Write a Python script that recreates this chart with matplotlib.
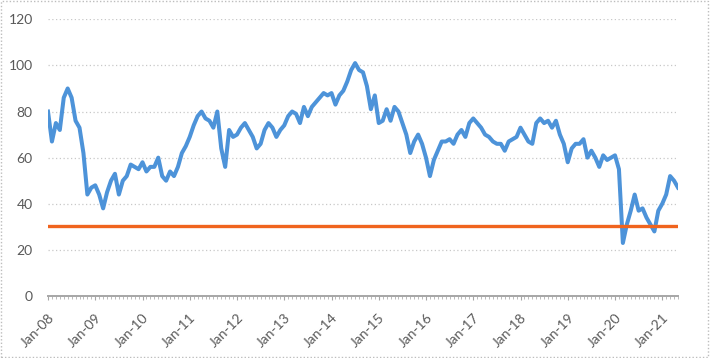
import matplotlib
matplotlib.use("Agg")
import matplotlib.pyplot as plt
from matplotlib.patches import Rectangle
import numpy as np

# monthly values, Jan-08 .. May-21
values = [
    80, 67, 75, 72, 86, 90, 86, 76, 73, 62, 44, 47,      # 2008
    48, 44, 38, 45, 50, 53, 44, 50, 52, 57, 56, 55,      # 2009
    58, 54, 56, 56, 60, 52, 50, 54, 52, 56, 62, 65,      # 2010
    69, 74, 78, 80, 77, 76, 73, 80, 64, 56, 72, 69,      # 2011
    70, 73, 75, 72, 69, 64, 66, 72, 75, 73, 69, 72,      # 2012
    74, 78, 80, 79, 75, 82, 78, 82, 84, 86, 88, 87,      # 2013
    88, 83, 87, 89, 93, 98, 101, 98, 97, 91, 81, 87,     # 2014
    75, 76, 81, 76, 82, 80, 75, 70, 62, 67, 70, 66,      # 2015
    60, 52, 59, 63, 67, 67, 68, 66, 70, 72, 69, 75,      # 2016
    77, 75, 73, 70, 69, 67, 66, 66, 63, 67, 68, 69,      # 2017
    73, 70, 67, 66, 75, 77, 75, 76, 73, 76, 70, 66,      # 2018
    58, 64, 66, 66, 68, 60, 63, 60, 56, 61, 59, 60,      # 2019
    61, 55, 23, 31, 37, 44, 37, 38, 34, 31, 28, 37,      # 2020
    40, 44, 52, 50, 47,                                  # 2021
]
threshold = 30.5
years = list(range(2008, 2022))
year_labels = ["Jan-%02d" % (y % 100) for y in years]

blue = "#4d93d9"
orange = "#f0641e"
grey_txt = "#595959"

plt.rcParams["font.family"] = ["Lato", "DejaVu Sans"]

fig = plt.figure(figsize=(7.10, 3.58), dpi=100)
ax = fig.add_axes([48 / 710, 62 / 358, 630 / 710, 276.7 / 358])

months = np.arange(len(values))
ax.plot(months, values, color=blue, lw=2.9, solid_joinstyle="round", zorder=3)
ax.axhline(threshold, color=orange, lw=2.4, zorder=4)

ax.set_xlim(0, len(values) - 1)
ax.set_ylim(0, 120)
ax.set_yticks(range(0, 121, 20))
ax.set_xticks([12 * i for i in range(len(years))])
ax.set_xticklabels(year_labels, rotation=45, ha="right", rotation_mode="anchor")
ax.set_xticks(months, minor=True)

ax.grid(axis="y", color="#c8c8c8", ls=(0, (1, 2)), lw=0.9)
for s in ["top", "right", "left"]:
    ax.spines[s].set_visible(False)
ax.spines["bottom"].set_color("#a6a6a6")
ax.spines["bottom"].set_linewidth(1.4)

ax.tick_params(axis="y", length=0, pad=11, labelsize=10, labelcolor=grey_txt)
ax.tick_params(axis="x", which="major", length=3, color="#a6a6a6", pad=8,
               labelsize=10, labelcolor=grey_txt)
ax.tick_params(axis="x", which="minor", length=2, color="#b0b0b0")

fig.patches.append(Rectangle((0.002, 0.003), 0.995, 0.993, transform=fig.transFigure,
                             fill=False, ec="#bdbdbd", lw=1.0, ls=(0, (1, 1.5))))

fig.savefig("out.png", dpi=100)
